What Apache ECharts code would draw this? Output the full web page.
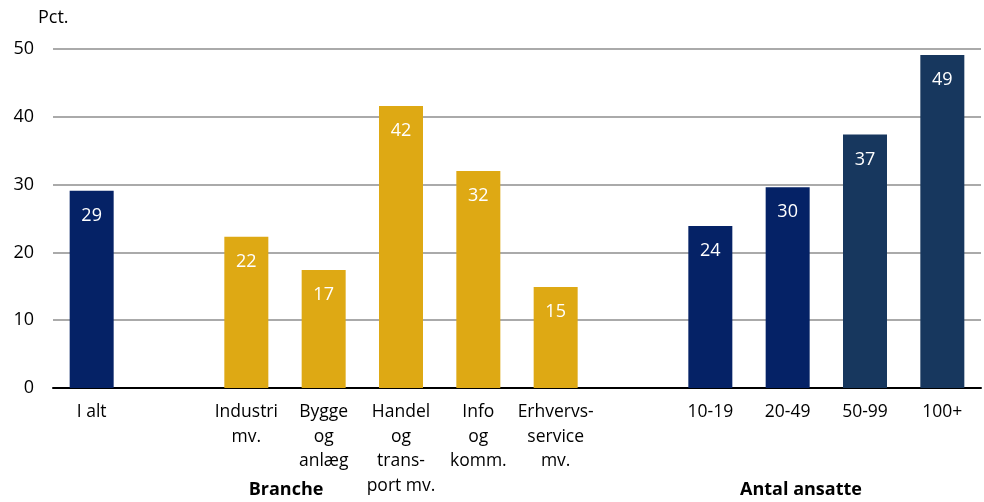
<!DOCTYPE html>
<html>
<head>
<meta charset="utf-8">
<script src="https://cdn.jsdelivr.net/npm/echarts@6/dist/echarts.min.js"></script>
<style>html,body{margin:0;padding:0;background:#fff}#c{width:984px;height:502px}</style>
</head>
<body>
<div id="c"></div>
<script>
const categories = ['I alt', '', 'Industri\nmv.', 'Bygge\nog\nanlæg', 'Handel\nog\ntrans-\nport mv.', 'Info\nog\nkomm.', 'Erhvervs-\nservice\nmv.', '', '10-19', '20-49', '50-99', '100+'];
const values = [29.1, null, 22.3, 17.4, 41.6, 32.0, 14.9, null, 23.9, 29.6, 37.4, 49.1];
const groups = ['total', null, 'branche', 'branche', 'branche', 'branche', 'branche', null, 'small', 'small', 'large', 'large'];
const yTicks = [0, 10, 20, 30, 40, 50];
const groupTitles = ['Branche', 'Antal ansatte'];

const colors = { total: '#052266', branche: '#DEA914', small: '#052266', large: '#17375E' };
const font = '"Open Sans", sans-serif';

const chart = echarts.init(document.getElementById('c'));
chart.setOption({
  animation: false,
  grid: { left: 53, right: 3, top: 49, bottom: 114 },
  xAxis: {
    type: 'category',
    data: categories,
    axisLine: { lineStyle: { color: '#000', width: 2 } },
    axisTick: { show: false },
    axisLabel: { interval: 0, color: '#000', fontSize: 17.5, fontFamily: font, lineHeight: 24.5, margin: 12, align: 'center' }
  },
  yAxis: {
    type: 'value', min: yTicks[0], max: yTicks[yTicks.length - 1], interval: 10,
    axisLine: { show: false }, axisTick: { show: false },
    axisLabel: { color: '#000', fontSize: 18, fontFamily: font, margin: 19 },
    splitLine: { lineStyle: { color: '#aaaaaa', width: 2 } }
  },
  series: [{
    type: 'bar',
    barWidth: 44,
    data: values.map((v, i) => v == null ? null : ({ value: v, itemStyle: { color: colors[groups[i]] } })),
    label: {
      show: true, position: 'insideTop', distance: 16, color: '#fff', fontSize: 18, fontFamily: font,
      formatter: p => Math.round(p.value)
    }
  }],
  graphic: [
    { type: 'text', x: 38, y: 18, style: { text: 'Pct.', fontSize: 18, fontFamily: font, fill: '#000', textVerticalAlign: 'middle' } },
    { type: 'text', x: 286, y: 490, style: { text: groupTitles[0], fontSize: 18, fontWeight: 'bold', fontFamily: font, fill: '#000', textAlign: 'center', textVerticalAlign: 'middle' } },
    { type: 'text', x: 801, y: 490, style: { text: groupTitles[1], fontSize: 18, fontWeight: 'bold', fontFamily: font, fill: '#000', textAlign: 'center', textVerticalAlign: 'middle' } }
  ]
});
</script>
</body>
</html>
